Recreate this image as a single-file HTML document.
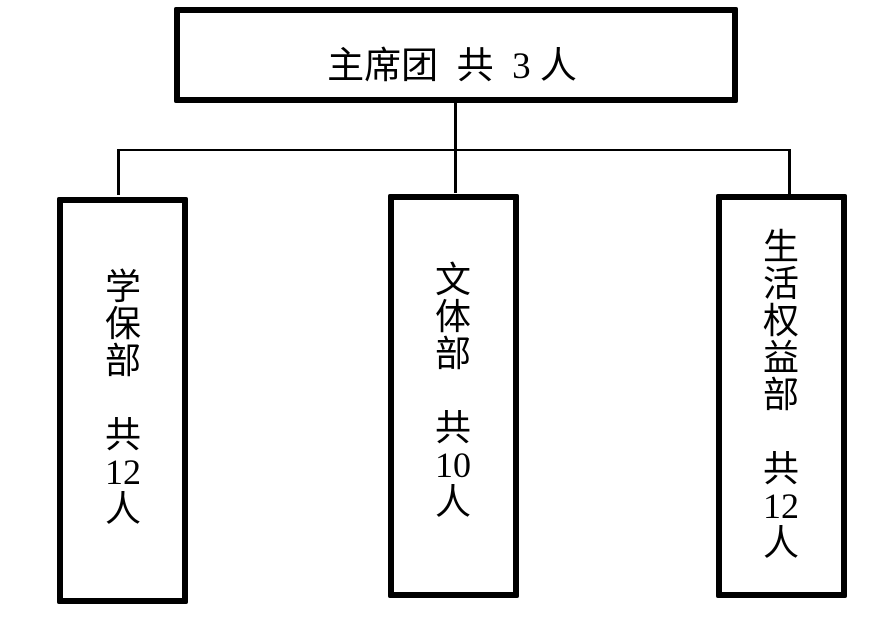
<!DOCTYPE html>
<html><head><meta charset="utf-8"><style>
body{margin:0;width:892px;height:618px;background:#fff;position:relative;overflow:hidden;font-family:"Liberation Serif","Noto Sans CJK SC",sans-serif;}
.b{position:absolute;border:6px solid #000;box-sizing:border-box;border-radius:2px;}
.l{position:absolute;background:#000;}
.col{position:absolute;width:80px;text-align:center;font-size:36px;line-height:37px;font-family:"Liberation Serif","Noto Sans CJK SC",sans-serif;}
.col div{height:37px;}
</style></head><body>
<div class="b" style="left:174px;top:7px;width:564px;height:96px;"></div>
<div style="position:absolute;left:170px;top:19px;width:564px;height:96px;line-height:96px;text-align:center;font-size:37px;">主席团&nbsp;&nbsp;共&nbsp;&nbsp;3&nbsp;人</div>
<div class="l" style="left:454px;top:101px;width:3px;height:92px;"></div>
<div class="l" style="left:117px;top:149px;width:674px;height:2px;"></div>
<div class="l" style="left:117px;top:149px;width:3px;height:46px;"></div>
<div class="l" style="left:788px;top:149px;width:3px;height:46px;"></div>
<div class="b" style="left:57px;top:197px;width:131px;height:407px;"></div>
<div class="b" style="left:388px;top:194px;width:131px;height:404px;"></div>
<div class="b" style="left:716px;top:194px;width:131px;height:404px;"></div>
<div class="col" style="left:83px;top:269px;"><div>学</div><div>保</div><div>部</div><div></div><div>共</div><div>12</div><div>人</div></div>
<div class="col" style="left:413px;top:262px;"><div>文</div><div>体</div><div>部</div><div></div><div>共</div><div>10</div><div>人</div></div>
<div class="col" style="left:741px;top:229px;"><div>生</div><div>活</div><div>权</div><div>益</div><div>部</div><div></div><div>共</div><div>12</div><div>人</div></div>
</body></html>
